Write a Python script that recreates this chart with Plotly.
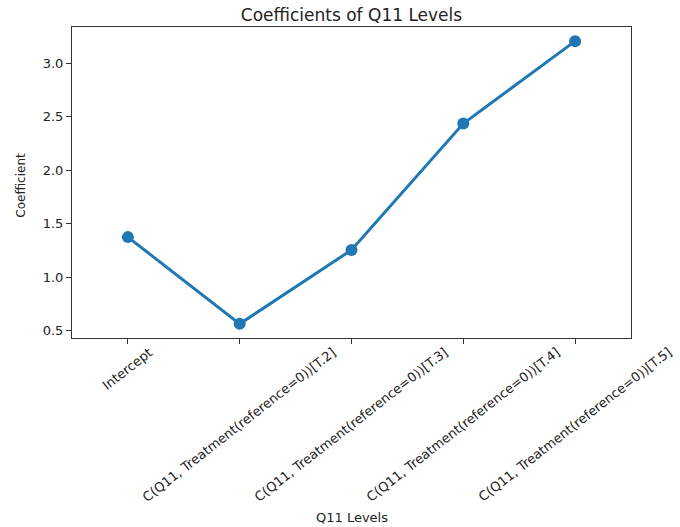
import plotly.graph_objects as go

# Regression coefficients for each Q11 level
terms = [
    "Intercept",
    "C(Q11, Treatment(reference=0))[T.2]",
    "C(Q11, Treatment(reference=0))[T.3]",
    "C(Q11, Treatment(reference=0))[T.4]",
    "C(Q11, Treatment(reference=0))[T.5]",
]
coefficients = [1.375, 0.565, 1.255, 2.435, 3.205]
y_ticks = [0.5, 1.0, 1.5, 2.0, 2.5, 3.0]

BLUE = "#1f77b4"
FONT = "DejaVu Sans"
TEXT = "#222222"

fig = go.Figure()
fig.add_trace(go.Scatter(
    x=list(range(len(terms))),
    y=coefficients,
    mode="lines+markers",
    line=dict(color=BLUE, width=3),
    marker=dict(color=BLUE, size=12),
    showlegend=False,
))

# Rotated category labels, centred under each tick
annotations = []
for i, term in enumerate(terms):
    annotations.append(dict(
        x=i, y=0, xref="x", yref="paper",
        text=term, showarrow=False, textangle=-38,
        xanchor="center", yanchor="top", yshift=-4,
        font=dict(family=FONT, size=13, color=TEXT),
    ))

# Axis titles
annotations.append(dict(
    x=0.5, y=-0.5756, xref="paper", yref="paper",
    text="Q11 Levels", showarrow=False,
    xanchor="center", yanchor="middle",
    font=dict(family=FONT, size=13, color=TEXT),
))
annotations.append(dict(
    x=-0.0912, y=0.49, xref="paper", yref="paper",
    text="Coefficient", showarrow=False, textangle=-90,
    xanchor="center", yanchor="middle",
    font=dict(family=FONT, size=12, color=TEXT),
))

lo, hi = min(coefficients), max(coefficients)
pad = (hi - lo) * 0.05

fig.update_layout(
    width=680, height=527,
    margin=dict(l=72, r=49, t=27, b=189),
    paper_bgcolor="white", plot_bgcolor="white",
    title=dict(
        text="Coefficients of Q11 Levels",
        x=0.5, xref="paper", y=1 - 15 / 527, yref="container",
        xanchor="center", yanchor="middle",
        font=dict(family=FONT, size=17, color=TEXT),
    ),
    xaxis=dict(
        range=[-0.5, len(terms) - 0.5],
        tickmode="array", tickvals=list(range(len(terms))),
        showticklabels=False,
        ticks="outside", ticklen=5, tickcolor="#333333",
        showgrid=False, zeroline=False,
        showline=True, linecolor="#333333", linewidth=1, mirror=True,
    ),
    yaxis=dict(
        range=[lo - pad, hi + pad],
        tickmode="array", tickvals=y_ticks,
        ticktext=[f"{v:.1f}" for v in y_ticks],
        ticks="outside", ticklen=5, tickcolor="#333333",
        tickfont=dict(family=FONT, size=13, color=TEXT),
        showgrid=False, zeroline=False,
        showline=True, linecolor="#333333", linewidth=1, mirror=True,
    ),
    annotations=annotations,
)

fig.write_html("out.html")
